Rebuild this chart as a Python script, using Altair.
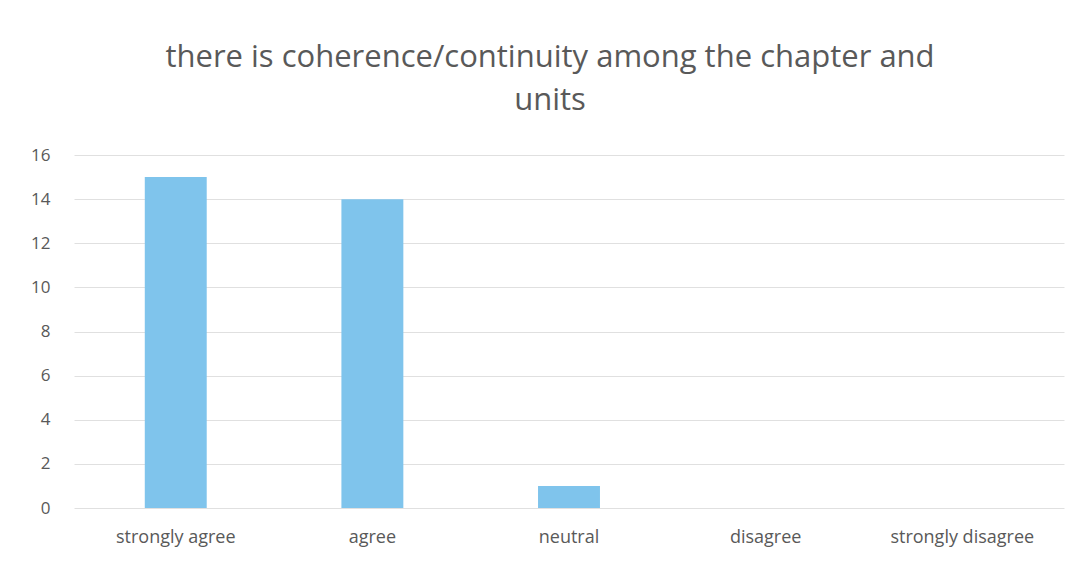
import altair as alt
import pandas as pd

categories = ["strongly agree", "agree", "neutral", "disagree", "strongly disagree"]
counts = [15, 14, 1, 0, 0]
y_ticks = [0, 2, 4, 6, 8, 10, 12, 14, 16]

df = pd.DataFrame({"category": categories, "count": counts})

FONT = "Open Sans"
GRAY = "#595959"

chart = alt.Chart(df).mark_bar(color="#7FC4EC").encode(
    x=alt.X("category:N", sort=categories, title=None,
            scale=alt.Scale(paddingInner=0.685, paddingOuter=0.36),
            axis=alt.Axis(labelAngle=0, domain=False, ticks=False, grid=False, labelPadding=20,
                          labelFontSize=18, labelColor=GRAY, labelFont=FONT)),
    y=alt.Y("count:Q", title=None,
            scale=alt.Scale(domain=[0, 16]),
            axis=alt.Axis(values=y_ticks, domain=False, ticks=False, labelPadding=24,
                          labelFontSize=17, labelColor=GRAY, labelFont=FONT,
                          gridColor="#e0e0e0", gridWidth=1)),
).properties(
    width=990,
    height=353,
    background="white",
    autosize=alt.AutoSizeParams(type="none"),
    padding={"left": 66, "top": 147, "right": 10, "bottom": 50},
    title=alt.TitleParams(
        text=["there is  coherence/continuity among the chapter and", "units"],
        fontSize=31, font=FONT, fontWeight="normal", color=GRAY,
        anchor="middle", offset=29, lineHeight=43, dx=-19,
    ),
).configure_view(strokeWidth=0)

chart.save("out.html", embed_options={"renderer": "svg", "actions": False})
